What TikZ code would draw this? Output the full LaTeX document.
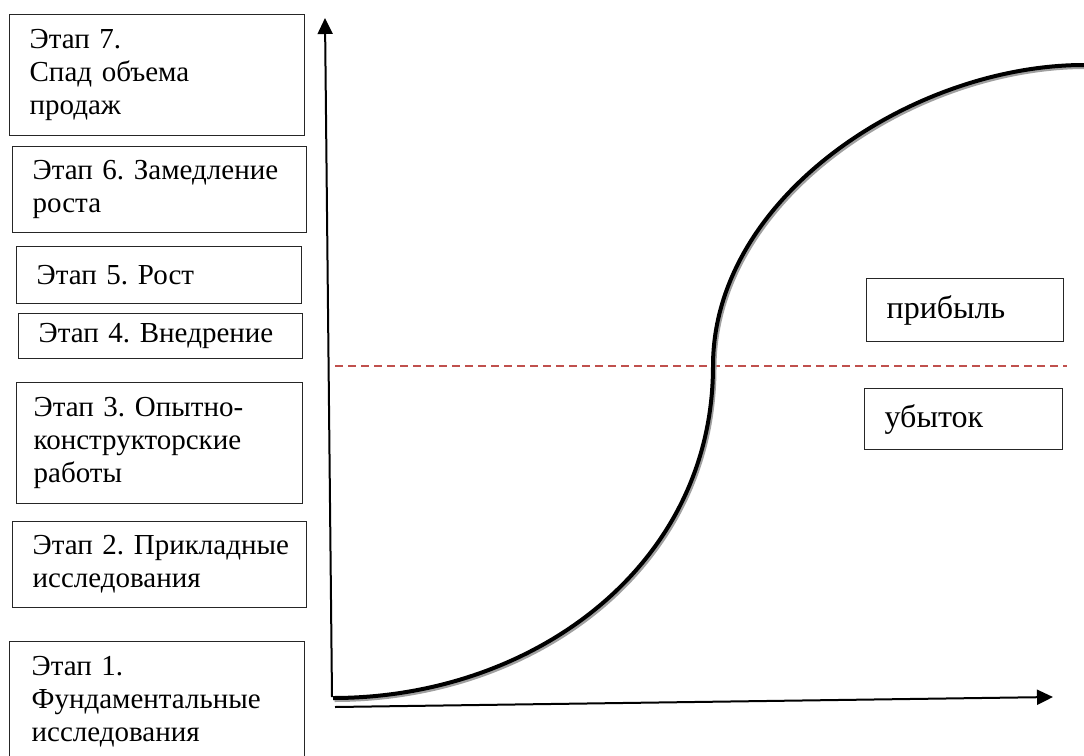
\documentclass[tikz,border=0pt]{standalone}
\usepackage{fontspec}
\setmainfont{Liberation Serif}
\usetikzlibrary{arrows.meta}
\definecolor{dashred}{RGB}{192,80,77}
\definecolor{shadowgrey}{RGB}{160,160,160}
\tikzset{
  stagebox/.style={draw=black!85, line width=1.3pt, inner xsep=20pt, inner ysep=0pt,
    align=left, font=\fontsize{29}{33}\selectfont\frenchspacing, anchor=north west},
  axisline/.style={line width=2pt, -{Triangle[length=16pt,width=15pt]}},
}
\begin{document}
\begin{tikzpicture}[x=1pt,y=-1pt]
\useasboundingbox (0,0) rectangle (1084,755);
\begin{scope}
\clip (0,0) rectangle (1084,755);
% stage boxes
\node[stagebox, minimum width=295pt, minimum height=121pt, text width=255pt] (s7) at (9,14) {Этап~7.\\Спад~объема\\продаж};
\node[stagebox, minimum width=294pt, minimum height=86pt, text width=254pt] (s6) at (12,146) {Этап~6.~Замедление\\роста};
\node[stagebox, minimum width=285pt, minimum height=57pt, text width=245pt] (s5) at (16,246) {Этап~5.~Рост};
\node[stagebox, minimum width=284pt, minimum height=45pt, text width=244pt] (s4) at (18,313) {Этап~4.~Внедрение};
\node[stagebox, minimum width=286pt, minimum height=121pt, text width=252pt, inner xsep=17pt] (s3) at (16,382) {Этап~3.~Опытно-\\конструкторские\\работы\\[-5pt]};
\node[stagebox, minimum width=294pt, minimum height=86pt, text width=254pt] (s2) at (12,521) {Этап~2.~Прикладные\\исследования};
\node[stagebox, minimum width=295pt, minimum height=121pt, text width=251pt, inner xsep=22pt] (s1) at (9,641) {Этап~1.\\Фундаментальные\\исследования};
% profit / loss boxes
\node[stagebox, font=\fontsize{32}{36}\selectfont, minimum width=197pt, minimum height=63pt, text width=157pt] (profit) at (866,278) {прибыль};
\node[stagebox, font=\fontsize{32}{36}\selectfont, minimum width=198pt, minimum height=61pt, text width=158pt] (loss) at (864,388) {убыток};
% break-even dashed line
\coordinate (d0) at (335,366);
\coordinate (d1) at (1067,366);
\draw[dashred, line width=1.3pt, dash pattern=on 8pt off 5pt] (d0) -- (d1);
% axes
\coordinate (O) at (332,697);
\coordinate (ytip) at (325,18);
\coordinate (xs) at (335,707);
\coordinate (xtip) at (1053,697);
\draw[axisline] (O) -- (ytip);
\draw[axisline] (xs) -- (xtip);
% S-curve with shadow
\draw[shadowgrey, line width=4pt] (334.5,700) .. controls (534.5,700) and (714.5,568) .. (714.5,368)
  .. controls (714.5,198) and (915.5,67) .. (1085.5,67);
\draw[black, line width=4pt] (333,698) .. controls (533,698) and (713,566) .. (713,366)
  .. controls (713,196) and (914,65) .. (1084,65);
\end{scope}
\end{tikzpicture}
\end{document}
